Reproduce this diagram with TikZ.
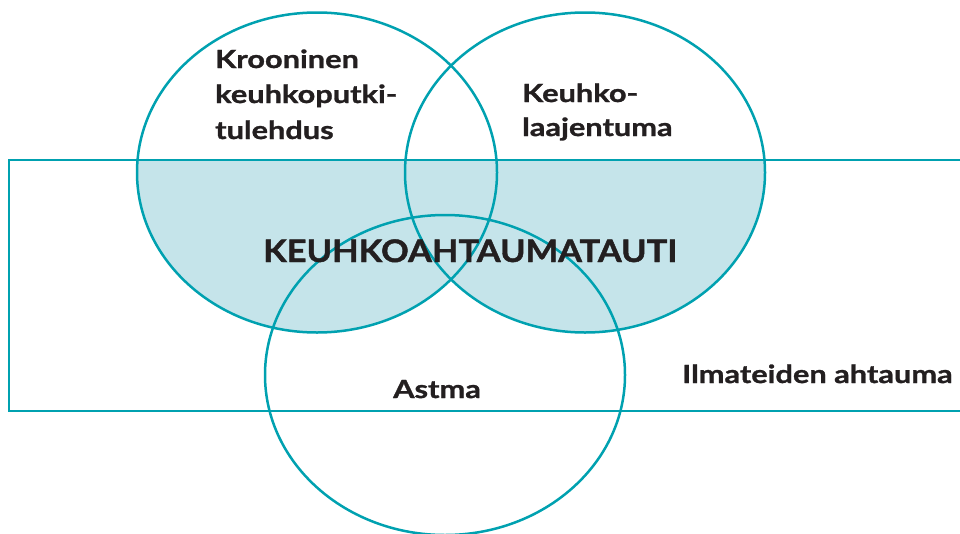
\documentclass[tikz,border=0pt]{standalone}
\usepackage{fontspec}
\setmainfont{Lato}[UprightFont=* Bold]
\newfontfamily\smallfam{Lato}[UprightFont=* Bold, FakeStretch=1.23, FakeBold=1.2]
\newfontfamily\bigfam{Lato}[UprightFont=* Bold, FakeStretch=1.11, FakeBold=1.4]
\definecolor{teal}{RGB}{0,161,176}
\definecolor{lightteal}{RGB}{197,228,234}
\definecolor{ink}{RGB}{35,31,32}
\begin{document}
\begin{tikzpicture}[x=1pt,y=-1pt,
  ring/.style={draw=teal,line width=2.5pt},
  lbl/.style={anchor=base west,inner sep=0pt,text=ink,font=\smallfam\fontsize{25}{30}\selectfont},
  biglbl/.style={anchor=base west,inner sep=0pt,text=ink,font=\bigfam\fontsize{31}{36}\selectfont}]
\useasboundingbox (0,0) rectangle (960,533);
\begin{scope}
  \clip (9,160) rectangle (975,411);
  \fill[lightteal] (317,172.5) ellipse [x radius=180, y radius=160];
  \fill[lightteal] (585,172.5) ellipse [x radius=180, y radius=160];
\end{scope}
\begin{scope}
\clip (0,0) rectangle (960,533);
\draw[ring] (317,172.5) ellipse [x radius=180, y radius=160];
\draw[ring] (585,172.5) ellipse [x radius=180, y radius=160];
\draw[ring] (445,375) ellipse [x radius=180, y radius=160];
\draw[ring] (975,160) -- (9,160) -- (9,411) -- (975,411);
\end{scope}
\node[lbl] (k1) at (215,68) {Krooninen};
\node[lbl] (k2) at (215,103) {keuhkoputki-};
\node[lbl] (k3) at (215,139) {tulehdus};
\node[lbl] (l1) at (522,102) {Keuhko-};
\node[lbl] (l2) at (522,136) {laajentuma};
\node[lbl] (as) at (393,398) {Astma};
\node[lbl] (il) at (682,383) {Ilmateiden ahtauma};
\node[biglbl] (kk) at (263,262) {KEUHKOAHTAUMATAUTI};
\end{tikzpicture}
\end{document}
